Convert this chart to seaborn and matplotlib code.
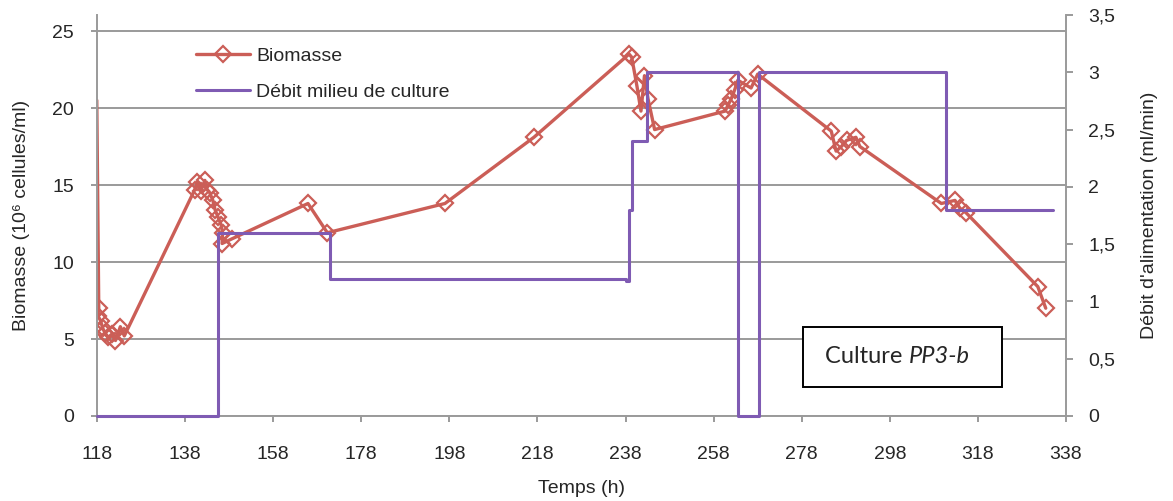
import matplotlib
matplotlib.use("Agg")
import matplotlib.pyplot as plt
import matplotlib.ticker as mticker
from matplotlib.patches import Rectangle
from matplotlib.lines import Line2D
import seaborn as sns
import pandas as pd

# ---- data ----
bio_t = [117.95, 118.4, 118.2, 118.8, 119.3, 119.8, 120.6, 121.3, 122.2, 123.3, 124.2,
         140.2, 140.8, 141.5, 142.5, 143.0, 143.6, 144.3, 144.8, 145.5, 146.2, 146.5, 146.4, 148.6,
         165.9, 170.3, 197.0, 217.2,
         238.8, 239.4, 240.6, 241.5, 242.3, 243.1, 244.6,
         260.6, 261.3, 262.0, 262.8, 263.5, 266.5, 268.0,
         284.7, 285.8, 287.0, 288.2, 290.3, 291.2,
         309.7, 312.8, 313.9, 315.3, 331.6, 333.4]
bio_v = [20.5, 7.0, 6.5, 6.2, 5.7, 5.4, 5.1, 5.3, 4.9, 5.8, 5.2,
         14.7, 15.2, 14.6, 15.3, 14.7, 14.5, 14.0, 13.4, 12.9, 12.4, 11.9, 11.2, 11.5,
         13.8, 11.9, 13.8, 18.1,
         23.5, 23.3, 21.4, 19.8, 22.1, 20.6, 18.6,
         19.8, 20.2, 20.6, 21.2, 21.8, 21.3, 22.2,
         18.5, 17.2, 17.5, 17.9, 18.1, 17.5,
         13.8, 14.0, 13.5, 13.2, 8.4, 7.0]

deb_t = [118, 145.4, 170.8, 238.2, 238.7, 239.4, 242.8, 263.6, 268.2, 310.8, 335.0]
deb_v = [0.0, 1.6, 1.2, 1.18, 1.8, 2.4, 3.0, 0.0, 3.0, 1.8, 1.8]

x_ticks = list(range(118, 339, 20))
left_ticks = [0, 5, 10, 15, 20, 25]
right_ticks = [0, 0.5, 1, 1.5, 2, 2.5, 3, 3.5]

bio_df = pd.DataFrame({"t": bio_t, "v": bio_v})
deb_df = pd.DataFrame({"t": deb_t, "v": deb_v})

# ---- style ----
sns.set_style("white")
FONT = ["Liberation Sans", "DejaVu Sans"]
plt.rcParams["font.family"] = FONT
plt.rcParams["font.size"] = 14

RED = "#CB5E57"
PURPLE = "#7F5BB3"
GRAY = "#9A9A9A"

fig = plt.figure(figsize=(11.73, 5.01), dpi=100)
ax = fig.add_axes([97 / 1173, 1 - 416 / 501, (1066 - 97) / 1173, (416 - 15) / 501])
ax2 = ax.twinx()

marker_kw = dict(marker="D", markersize=8.5, markerfacecolor="none",
                 markeredgecolor=RED, markeredgewidth=1.6)

# markers only on points inside the visible time range
visible = [i for i, t in enumerate(bio_t) if t >= 118]
sns.lineplot(data=bio_df, x="t", y="v", ax=ax, sort=False, estimator=None,
             color=RED, linewidth=2.4, markevery=visible, legend=False, **marker_kw)
sns.lineplot(data=deb_df, x="t", y="v", ax=ax2, sort=False, estimator=None,
             color=PURPLE, linewidth=2.2, drawstyle="steps-post", legend=False)
for ln in ax2.lines:
    ln.set_clip_on(False)

ax.set_xlim(118, 338)
ax.set_ylim(0, 26.04)
ax2.set_ylim(0, 3.5)
ax.set_xticks(x_ticks)
ax.set_yticks(left_ticks)
ax2.set_yticks(right_ticks)
ax2.yaxis.set_major_formatter(mticker.FuncFormatter(lambda v, _: f"{v:g}".replace(".", ",")))

ax.yaxis.grid(True, color=GRAY, linewidth=1.4)
ax.xaxis.grid(False)
ax2.grid(False)
ax.set_axisbelow(True)

for a in (ax, ax2):
    for s in a.spines.values():
        s.set_color(GRAY)
        s.set_linewidth(1.4)
    a.spines["top"].set_visible(False)
ax2.spines["left"].set_visible(False)
ax2.spines["bottom"].set_visible(False)
ax.spines["right"].set_visible(False)

ax.tick_params(axis="x", direction="out", length=4.5, width=1.4, color=GRAY, pad=17,
               labelsize=14, bottom=True)
ax.tick_params(axis="y", direction="out", length=4.5, width=1.4, color=GRAY, pad=12,
               labelsize=14, left=True)
ax2.tick_params(axis="y", direction="out", length=5, width=1.4, color=GRAY, pad=11,
                labelsize=14, right=True)

ax.set_xlabel("Temps (h)", fontsize=14)
ax.set_ylabel("Biomasse (10⁶ cellules/ml)", fontsize=14)
ax2.set_ylabel("Débit d'alimentation (ml/min)", fontsize=14)
ax.xaxis.set_label_coords(0.5, -0.16)
ax.yaxis.set_label_coords(-0.069, 0.5)
ax2.yaxis.set_label_coords(1.077, 0.5)

# legend
handles = [Line2D([], [], color=RED, linewidth=2.4, **marker_kw),
           Line2D([], [], color=PURPLE, linewidth=2.2)]
labels = ["Biomasse", "Débit milieu de culture"]
ax2.legend(handles, labels, loc="upper left", bbox_to_anchor=(0.102, 0.92),
           frameon=False, fontsize=14, handlelength=2.8, handletextpad=0.3,
           labelspacing=0.95, borderpad=0, borderaxespad=0, numpoints=1)

# annotation box
ax2.add_patch(Rectangle((0.7286, 0.0723), 0.2054, 0.1497, transform=ax2.transAxes,
                        facecolor="white", edgecolor="black", linewidth=1.4, zorder=5))
t1 = ax2.text(0.7513, 0.132, "Culture ", transform=ax2.transAxes, ha="left",
              va="baseline", fontsize=17, family=["Lato", "DejaVu Sans"], zorder=6)
ax2.annotate("PP3-b", xy=(1, 0), xycoords=t1, ha="left", va="bottom",
             fontsize=17, family=["Lato", "DejaVu Sans"], style="italic", zorder=6)

fig.savefig("out.png", dpi=100)
